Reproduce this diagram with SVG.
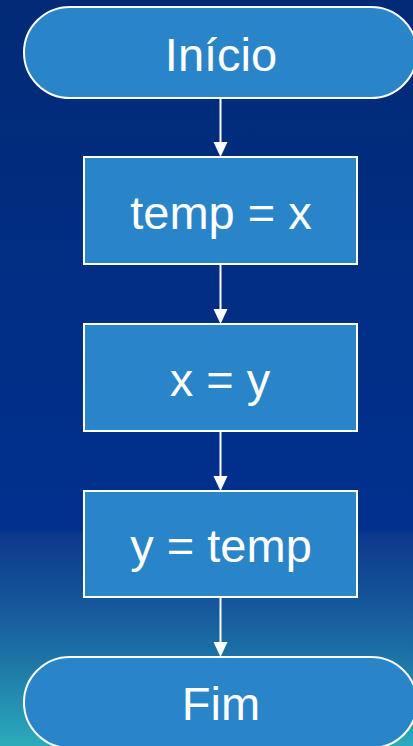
<svg xmlns="http://www.w3.org/2000/svg" width="413" height="746" viewBox="0 0 413 746">
<defs>
<linearGradient id="bg" x1="0" y1="0" x2="0" y2="746" gradientUnits="userSpaceOnUse">
<stop offset="0" stop-color="#022a76"/>
<stop offset="0.71" stop-color="#00318f"/>
<stop offset="0.715" stop-color="#0c388c"/>
<stop offset="0.80" stop-color="#155399"/>
<stop offset="0.87" stop-color="#1c6ea4"/>
<stop offset="1" stop-color="#2babba"/>
</linearGradient>
<style>
.node{fill:#2a84c8;stroke:#ffffff;stroke-width:2}
.lbl{fill:#ffffff;font-family:"Liberation Sans",Arial,sans-serif;font-size:47px;text-anchor:middle}
.edge{stroke:#ffffff;stroke-width:2;fill:none}
.head{fill:#ffffff}
</style>
</defs>
<rect x="0" y="0" width="413" height="746" fill="url(#bg)"/>
<g id="connectors">
<line class="edge" x1="220.5" y1="98" x2="220.5" y2="142"/>
<path class="head" d="M213.5,142 L227.5,142 L220.5,157 Z"/>
<line class="edge" x1="220.5" y1="264" x2="220.5" y2="309"/>
<path class="head" d="M213.5,309 L227.5,309 L220.5,324 Z"/>
<line class="edge" x1="220.5" y1="431" x2="220.5" y2="476"/>
<path class="head" d="M213.5,476 L227.5,476 L220.5,491 Z"/>
<line class="edge" x1="220.5" y1="597" x2="220.5" y2="642"/>
<path class="head" d="M213.5,642 L227.5,642 L220.5,657 Z"/>
</g>
<g id="inicio">
<rect class="node" x="24" y="7" width="393" height="91" rx="46" ry="45.5"/>
<text class="lbl" x="221" y="71">Início</text>
</g>
<g id="temp_x">
<rect class="node" x="84" y="157" width="273" height="107"/>
<text class="lbl" x="221" y="229">temp = x</text>
</g>
<g id="x_y">
<rect class="node" x="84" y="324" width="273" height="107"/>
<text class="lbl" x="220" y="396">x = y</text>
</g>
<g id="y_temp">
<rect class="node" x="84" y="491" width="273" height="106"/>
<text class="lbl" x="221" y="562">y = temp</text>
</g>
<g id="fim">
<rect class="node" x="24" y="657" width="393" height="91" rx="46" ry="45.5"/>
<text class="lbl" x="221" y="720">Fim</text>
</g>
</svg>
